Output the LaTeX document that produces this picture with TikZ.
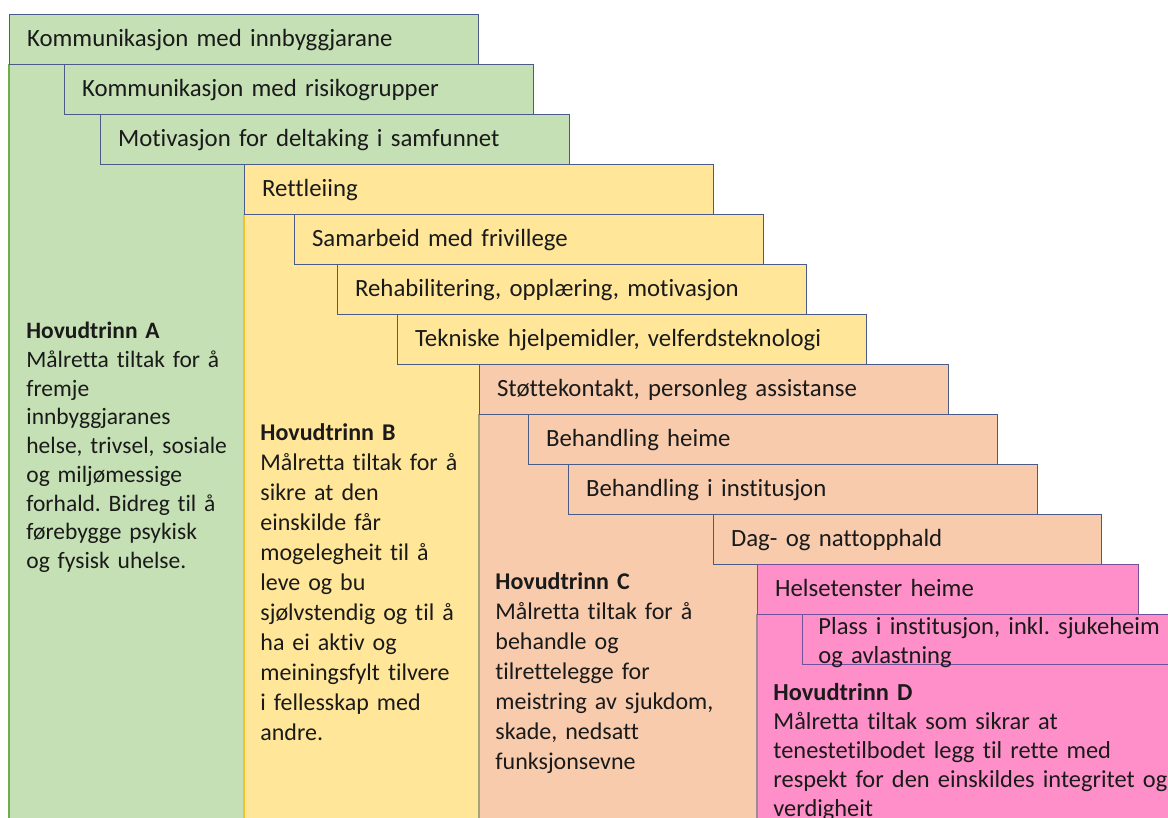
\documentclass[tikz,border=0pt]{standalone}
\usepackage{fontspec}
\setmainfont{Carlito}[Ligatures=NoCommon]
\usepackage{xcolor}
\usepackage{tikz}
\usetikzlibrary{positioning}
\frenchspacing

\definecolor{fillA}{HTML}{C5E0B4}
\definecolor{fillB}{HTML}{FFE699}
\definecolor{fillC}{HTML}{F8CBAD}
\definecolor{fillD}{HTML}{FF8FC8}
\definecolor{edgeA}{HTML}{70AD47}
\definecolor{edgeB}{HTML}{F2C12E}
\definecolor{edgeC}{HTML}{A3A477}
\definecolor{edgeD}{HTML}{9E8C94}
\definecolor{barblue}{HTML}{4A5B88}
\definecolor{barpurple}{HTML}{74509A}
\definecolor{inktext}{HTML}{1A1A1A}

\begin{document}
\begin{tikzpicture}[
    x=0.5pt, y=-0.5pt,
    barnode/.style={
        rectangle, draw=barblue, line width=0.6pt, anchor=north west,
        minimum height=25pt, inner xsep=8.75pt, inner ysep=0pt,
        text width=217pt, align=left, text height=0.8em, text depth=0.1em,
        text=inktext, font=\fontsize{12.4}{15}\selectfont
    },
    steptext/.style={
        anchor=north west, inner sep=0pt, align=left, text width=#1, text=inktext
    },
    coledge/.style={line width=0.8pt}
]
\useasboundingbox (0,0) rectangle (1168,818);
\clip (0,0) rectangle (1168,818);

% Hovudtrinn columns (back layer)
\fill[fillA] (9,64)    rectangle (244,830);
\fill[fillB] (244,214) rectangle (479,830);
\fill[fillC] (479,414) rectangle (757,830);
\fill[fillD] (757,614) rectangle (1180,830);
\draw[coledge, edgeA] (9,64)    -- (9,830);
\draw[coledge, edgeB] (244,214) -- (244,830);
\draw[coledge, edgeC] (479,414) -- (479,830);
\draw[coledge, edgeD] (757,614) -- (757,830);

% Tiltak bars, one row each, stepping to the right
\node[barnode, fill=fillA] (komInn)  at (9,14)   {Kommunikasjon med innbyggjarane};
\node[barnode, fill=fillA] (komRisk) at (64,64)  {Kommunikasjon med risikogrupper};
\node[barnode, fill=fillA] (motiv)   at (100,114) {Motivasjon for deltaking i samfunnet};

\node[barnode, fill=fillB] (rettl)   at (244,164) {Rettleiing};
\node[barnode, fill=fillB] (frivil)  at (294,214) {Samarbeid med frivillege};
\node[barnode, fill=fillB] (rehab)   at (337,264) {Rehabilitering, opplæring, motivasjon};
\node[barnode, fill=fillB] (teknisk) at (397,314) {Tekniske hjelpemidler, velferdsteknologi};

\node[barnode, fill=fillC] (stotte)  at (479,364) {Støttekontakt, personleg assistanse};
\node[barnode, fill=fillC] (behHeim) at (528,414) {Behandling heime};
\node[barnode, fill=fillC] (behInst) at (568,464) {Behandling i institusjon};
\node[barnode, fill=fillC, text width=176.5pt] (dagNatt) at (713,514) {Dag- og nattopphald};

\node[barnode, fill=fillD, draw=barpurple, text width=173pt] (helseHeim) at (757,564) {Helsetenster heime};
\node[barnode, fill=fillD, draw=barpurple, text width=190pt] (plass) at (802,614) {};
\node[steptext=200pt, font=\fontsize{12.3}{14.5}\selectfont] (plassTxt) at (818,617)
    {Plass i institusjon, inkl. sjukeheim\\og avlastning};

% Column texts
\node[steptext=215pt, font=\fontsize{11.75}{14.35}\selectfont] (txtA) at (26,322)
    {\textbf{Hovudtrinn A}\\Målretta tiltak for å\\fremje\\innbyggjaranes\\helse, trivsel, sosiale\\og miljømessige\\forhald. Bidreg til å\\førebygge psykisk\\og fysisk uhelse.};
\node[steptext=215pt, font=\fontsize{12}{15}\selectfont] (txtB) at (260,423)
    {\textbf{Hovudtrinn B}\\Målretta tiltak for å\\sikre at den\\einskilde får\\mogelegheit til å\\leve og bu\\sjølvstendig og til å\\ha ei aktiv og\\meiningsfylt tilvere\\i fellesskap med\\andre.};
\node[steptext=250pt, font=\fontsize{12}{15}\selectfont] (txtC) at (495,572)
    {\textbf{Hovudtrinn C}\\Målretta tiltak for å\\behandle og\\tilrettelegge for\\meistring av sjukdom,\\skade, nedsatt\\funksjonsevne};
\node[steptext=300pt, font=\fontsize{12.2}{14.5}\selectfont] (txtD) at (773,683)
    {\textbf{Hovudtrinn D}\\Målretta tiltak som sikrar at\\tenestetilbodet legg til rette med\\respekt for den einskildes integritet og\\verdigheit};
\end{tikzpicture}
\end{document}
